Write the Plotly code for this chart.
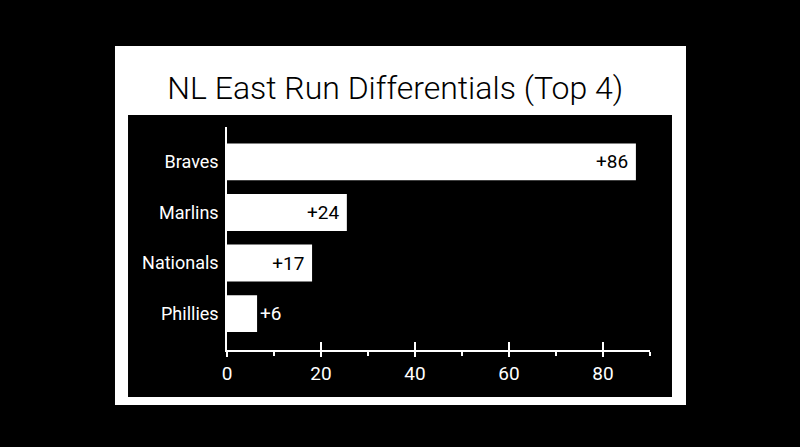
import plotly.graph_objects as go

# NL East run differentials, bottom-to-top order on the y axis
teams = ["Phillies", "Nationals", "Marlins", "Braves"]
run_diff = [6.4, 18.1, 25.5, 87]
bar_labels = ["+6", "+17", "+24", "+86"]
label_pos = ["outside", "inside", "inside", "inside"]

x_ticks = [0, 20, 40, 60, 80]

FONT = "Roboto, Liberation Sans, sans-serif"

# a trailing no-break space gives the inside labels a little more room from the bar end
shown_text = [t + "\u00a0" if p == "inside" else t for t, p in zip(bar_labels, label_pos)]

fig = go.Figure()

fig.add_trace(go.Bar(
    x=run_diff,
    y=teams,
    orientation="h",
    width=0.73,
    marker=dict(color="white", line=dict(width=0)),
    text=shown_text,
    textposition=label_pos,
    textangle=0,
    insidetextanchor="end",
    insidetextfont=dict(color="black", size=19, family=FONT),
    outsidetextfont=dict(color="white", size=19, family=FONT),
    cliponaxis=False,
    showlegend=False,
    hoverinfo="skip",
))

# empty trace so the overlay axis (upper half of major ticks) gets drawn
fig.add_trace(go.Scatter(x=[], y=[], xaxis="x2", showlegend=False))

fig.update_layout(
    width=800,
    height=447,
    margin=dict(l=227, r=150, t=127, b=97),
    paper_bgcolor="black",
    plot_bgcolor="black",
    font=dict(family=FONT, color="white", size=19),
    title=dict(
        text="NL East Run Differentials (Top 4)",
        x=0.494, xanchor="center",
        y=0.803, yanchor="middle",
        font=dict(family=FONT, size=32, color="black", weight=300),
    ),
    xaxis=dict(
        range=[0, 90],
        tickvals=x_ticks,
        ticks="outside",
        ticklen=5,
        tickwidth=1.5,
        tickcolor="white",
        minor=dict(dtick=10, ticks="outside", ticklen=4, tickwidth=1.5, tickcolor="white"),
        showline=True,
        linecolor="white",
        linewidth=1.5,
        showgrid=False,
        zeroline=False,
        tickfont=dict(size=19, color="white"),
        fixedrange=True,
    ),
    xaxis2=dict(
        overlaying="x",
        anchor="y",
        side="bottom",
        range=[0, 90],
        tickvals=x_ticks,
        ticks="inside",
        ticklen=8,
        tickwidth=1.5,
        tickcolor="white",
        showticklabels=False,
        showline=False,
        showgrid=False,
        zeroline=False,
    ),
    yaxis=dict(
        range=[-0.72, 3.69],
        showline=True,
        linecolor="white",
        linewidth=1.5,
        ticks="",
        showgrid=False,
        zeroline=False,
        ticklabelstandoff=3,
        tickfont=dict(size=18, color="white"),
        fixedrange=True,
    ),
    shapes=[
        dict(type="rect", xref="paper", yref="paper", layer="below",
             x0=-0.2648, x1=1.0851, y0=-0.2466, y1=1.3632,
             fillcolor="white", line=dict(width=0)),
        dict(type="rect", xref="paper", yref="paper", layer="below",
             x0=-0.234, x1=1.052, y0=-0.2108, y1=1.0538,
             fillcolor="black", line=dict(width=0)),
    ],
)

# drop the default page margin so the figure sits at the window's corner
fig.write_html("out.html", config={"displayModeBar": False},
               post_script="document.body.style.margin='0';")
